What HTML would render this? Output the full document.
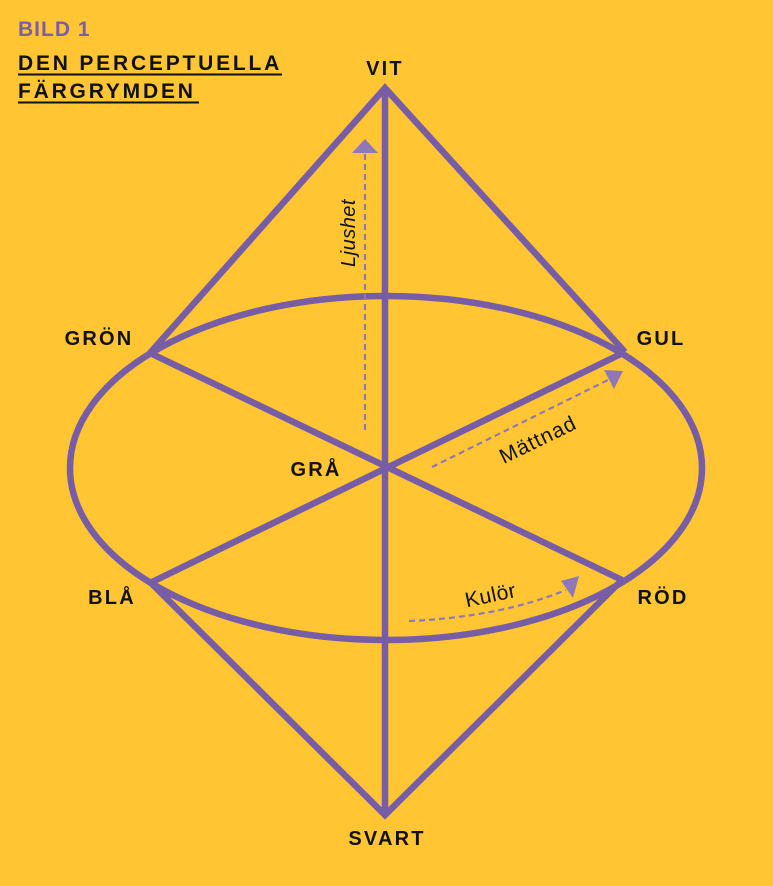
<!DOCTYPE html>
<html><head><meta charset="utf-8"><style>
html,body{margin:0;padding:0;background:#FFC533;}
svg{display:block;}
.b{font-family:"Liberation Sans",sans-serif;font-weight:bold;letter-spacing:2px;}
.i{font-family:"Liberation Sans",sans-serif;}
</style></head><body>
<svg width="773" height="886" viewBox="0 0 773 886" xmlns="http://www.w3.org/2000/svg">
<rect width="773" height="886" fill="#FFC533"/>
<text x="18" y="36" class="b" font-size="21" fill="#7B5EA7" style="letter-spacing:1px">BILD 1</text>
<text x="18" y="70" class="b" font-size="21" fill="#111" style="letter-spacing:2.8px">DEN PERCEPTUELLA</text>
<line x1="18" y1="74.5" x2="282" y2="74.5" stroke="#111" stroke-width="2"/>
<text x="18" y="98" class="b" font-size="21" fill="#111" style="letter-spacing:2.8px">FÄRGRYMDEN</text>
<line x1="18" y1="102.5" x2="199" y2="102.5" stroke="#111" stroke-width="2"/>

<g fill="none" stroke="#775CA6" stroke-width="6.5" stroke-linejoin="miter">
<ellipse cx="386" cy="468" rx="316" ry="172"/>
<polyline points="150,353 385,88 625,352"/>
<polyline points="150,582 385,815 622,580"/>
<line x1="385" y1="88" x2="385" y2="815"/>
<line x1="150" y1="353" x2="622" y2="580"/>
<line x1="625" y1="352" x2="152" y2="582"/>
</g>

<g stroke="#8F78B8" stroke-width="2.2" stroke-dasharray="6,4" fill="none">
<line x1="365" y1="430" x2="365" y2="152"/>
<line x1="432" y1="467" x2="608" y2="380"/>
<path d="M409,621 Q500,617 566,590"/>
</g>
<g fill="#8F78B8">
<polygon points="365,139 352,153 378,153"/>
<polygon points="623,371 604,370 614,389"/>
<polygon points="579,576 561,581 573,598"/>
</g>

<text transform="translate(355,233) rotate(-90)" text-anchor="middle" class="i" font-style="italic" font-size="20" fill="#111" style="letter-spacing:0.5px">Ljushet</text>
<text transform="translate(541,446) rotate(-26)" text-anchor="middle" class="i" font-size="21" fill="#111" style="letter-spacing:1px">Mättnad</text>
<text transform="translate(492,602) rotate(-12)" text-anchor="middle" class="i" font-size="21" fill="#111" style="letter-spacing:0.5px">Kulör</text>

<g class="b" font-size="20" fill="#111" text-anchor="middle" style="letter-spacing:2.2px">
<text x="99" y="345">GRÖN</text>
<text x="385" y="75">VIT</text>
<text x="661" y="345">GUL</text>
<text x="316" y="476">GRÅ</text>
<text x="112" y="604">BLÅ</text>
<text x="663" y="604">RÖD</text>
<text x="387" y="845">SVART</text>
</g>
</svg>
</body></html>
